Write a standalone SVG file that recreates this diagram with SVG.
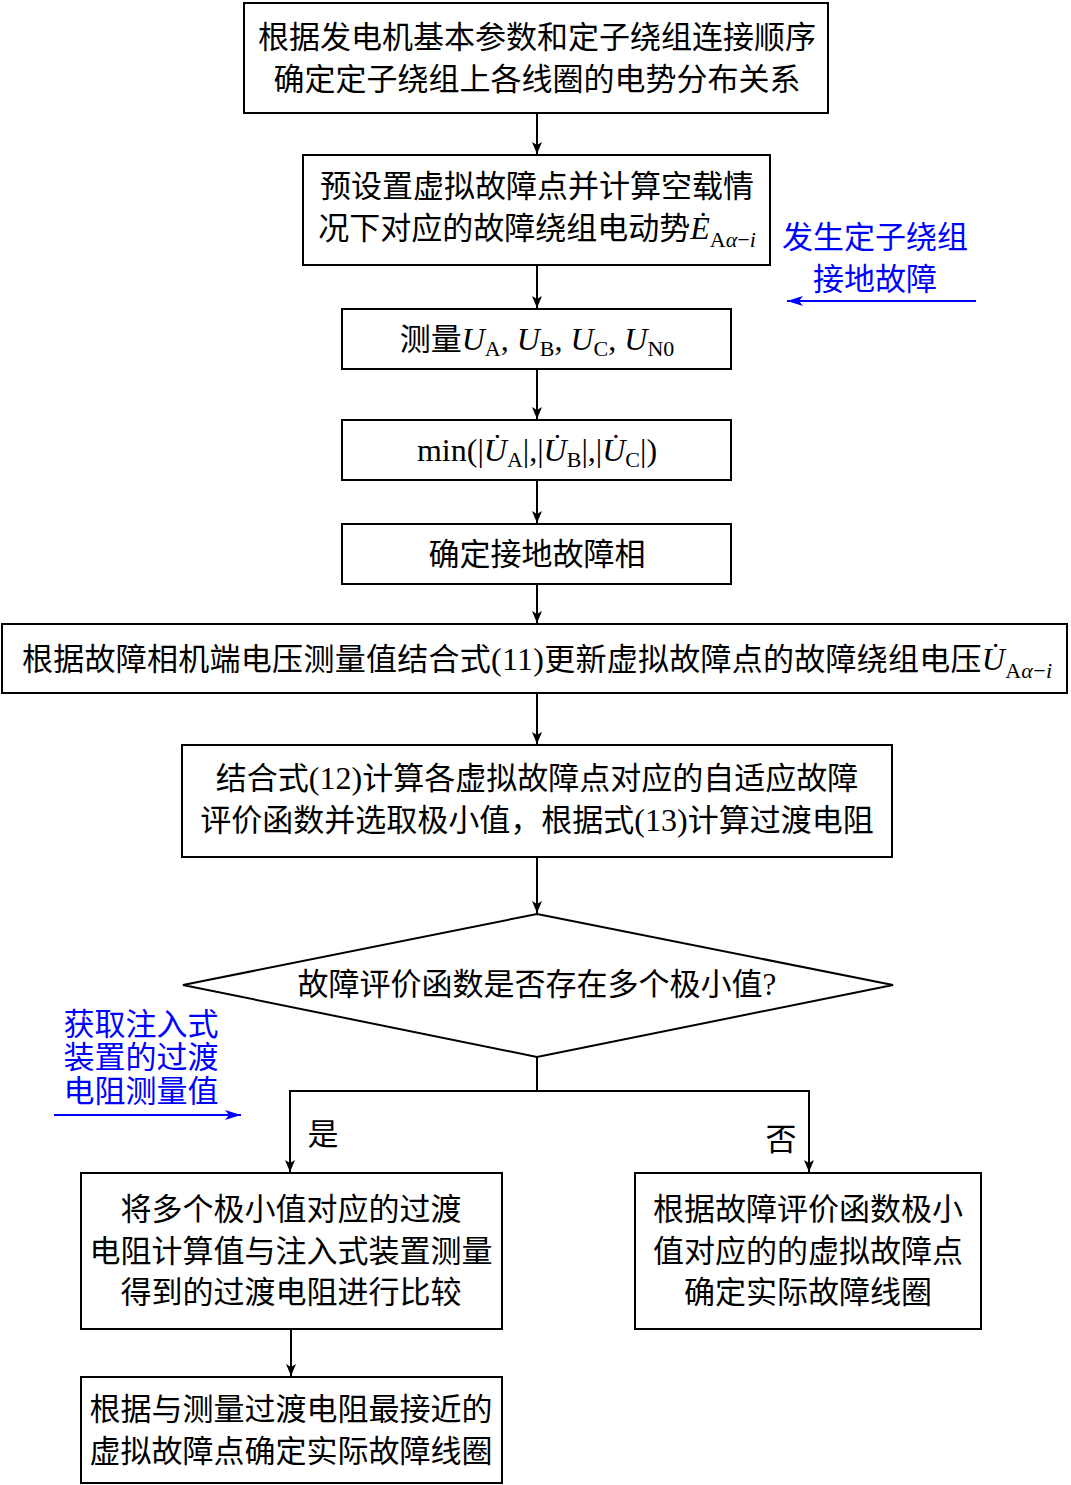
<svg xmlns="http://www.w3.org/2000/svg" width="1071" height="1485" viewBox="0 0 1071 1485">
<style>
.box{fill:#fff;stroke:#000;stroke-width:2}
.t{font-family:"Liberation Serif","Noto Sans CJK SC",serif;font-size:31px;fill:#000;text-anchor:middle}
.b{font-family:"Liberation Serif","Noto Sans CJK SC",serif;font-size:31px;fill:#0000ff;text-anchor:middle}
.i{font-style:italic}
.m{font-size:32px}
.s{font-size:22px}
.c{stroke:#000;stroke-width:2;fill:none}
.bl{stroke:#0000ff;stroke-width:2;fill:none}
</style>
<defs>
<marker id="ah" viewBox="0 0 12 10" refX="12" refY="5" markerWidth="12" markerHeight="10" markerUnits="userSpaceOnUse" orient="auto"><path d="M0,0 L12,5 L0,10 L3,5 z" fill="#000"/></marker>
<marker id="bh" viewBox="0 0 16 10" refX="16" refY="5" markerWidth="16" markerHeight="10" markerUnits="userSpaceOnUse" orient="auto"><path d="M0,0 L16,5 L0,10 L4,5 z" fill="#0000ff"/></marker>
</defs>
<g id="connectors">
<path class="c" d="M537,113 V154" marker-end="url(#ah)"/>
<path class="c" d="M537,265 V308" marker-end="url(#ah)"/>
<path class="c" d="M537,369 V419" marker-end="url(#ah)"/>
<path class="c" d="M537,480 V523" marker-end="url(#ah)"/>
<path class="c" d="M537,584 V623" marker-end="url(#ah)"/>
<path class="c" d="M537,693 V744" marker-end="url(#ah)"/>
<path class="c" d="M537,857 V913" marker-end="url(#ah)"/>
<path class="c" d="M537,1057 V1091 H290 V1172" marker-end="url(#ah)"/>
<path class="c" d="M537,1091 H809 V1172" marker-end="url(#ah)"/>
<path class="c" d="M291,1329 V1376" marker-end="url(#ah)"/>
<text class="t" x="323" y="1145">是</text>
<text class="t" x="781" y="1150">否</text>
</g>
<g id="n1"><rect class="box" x="244" y="3" width="584" height="110"/>
<text class="t" x="537" y="48">根据发电机基本参数和定子绕组连接顺序</text>
<text class="t" x="537" y="90">确定定子绕组上各线圈的电势分布关系</text></g>
<g id="n2"><rect class="box" x="303" y="155" width="467" height="110"/>
<text class="t" x="537" y="197">预设置虚拟故障点并计算空载情</text>
<text class="t" x="537" y="239">况下对应的故障绕组电动势<tspan class="i m">Ė</tspan><tspan class="s" dy="8">A</tspan><tspan class="s i">α</tspan><tspan class="s">−</tspan><tspan class="s i">i</tspan></text></g>
<g id="n3"><rect class="box" x="342" y="309" width="389" height="60"/>
<text class="t" x="537" y="350">测量<tspan class="i m">U</tspan><tspan class="s" dy="6">A</tspan><tspan class="m" dy="-6">, </tspan><tspan class="i m">U</tspan><tspan class="s" dy="6">B</tspan><tspan class="m" dy="-6">, </tspan><tspan class="i m">U</tspan><tspan class="s" dy="6">C</tspan><tspan class="m" dy="-6">, </tspan><tspan class="i m">U</tspan><tspan class="s" dy="6">N0</tspan></text></g>
<g id="n4"><rect class="box" x="342" y="420" width="389" height="60"/>
<text class="t m" x="537" y="461">min(|<tspan class="i">U̇</tspan><tspan class="s" dy="6">A</tspan><tspan dy="-6">|,|</tspan><tspan class="i">U̇</tspan><tspan class="s" dy="6">B</tspan><tspan dy="-6">|,|</tspan><tspan class="i">U̇</tspan><tspan class="s" dy="6">C</tspan><tspan dy="-6">|)</tspan></text></g>
<g id="n5"><rect class="box" x="342" y="524" width="389" height="60"/>
<text class="t" x="537" y="565">确定接地故障相</text></g>
<g id="n6"><rect class="box" x="2" y="624" width="1065" height="69"/>
<text class="t" x="537" y="670" textLength="1030" lengthAdjust="spacing">根据故障相机端电压测量值结合式<tspan class="m">(11)</tspan>更新虚拟故障点的故障绕组电压<tspan class="i m">U̇</tspan><tspan class="s" dy="8">A</tspan><tspan class="s i">α</tspan><tspan class="s">−</tspan><tspan class="s i">i</tspan></text></g>
<g id="n7"><rect class="box" x="182" y="745" width="710" height="112"/>
<text class="t" x="537" y="789">结合式<tspan class="m">(12)</tspan>计算各虚拟故障点对应的自适应故障</text>
<text class="t" x="537" y="831">评价函数并选取极小值，根据式<tspan class="m">(13)</tspan>计算过渡电阻</text></g>
<g id="n8"><polygon class="box" points="537,914 893,985 537,1057 183,985"/>
<text class="t" x="537" y="995">故障评价函数是否存在多个极小值?</text></g>
<g id="n9"><rect class="box" x="81" y="1173" width="421" height="156"/>
<text class="t" x="291" y="1220">将多个极小值对应的过渡</text>
<text class="t" x="291" y="1262">电阻计算值与注入式装置测量</text>
<text class="t" x="291" y="1303">得到的过渡电阻进行比较</text></g>
<g id="n10"><rect class="box" x="635" y="1173" width="346" height="156"/>
<text class="t" x="808" y="1220">根据故障评价函数极小</text>
<text class="t" x="808" y="1262">值对应的的虚拟故障点</text>
<text class="t" x="808" y="1303">确定实际故障线圈</text></g>
<g id="n11"><rect class="box" x="81" y="1377" width="421" height="106"/>
<text class="t" x="291" y="1420">根据与测量过渡电阻最接近的</text>
<text class="t" x="291" y="1462">虚拟故障点确定实际故障线圈</text></g>
<g id="note1">
<text class="b" x="875" y="248">发生定子绕组</text>
<text class="b" x="875" y="290">接地故障</text>
<path class="bl" d="M976,301 H787" marker-end="url(#bh)"/></g>
<g id="note2">
<text class="b" x="141" y="1035">获取注入式</text>
<text class="b" x="141" y="1068">装置的过渡</text>
<text class="b" x="141" y="1102">电阻测量值</text>
<path class="bl" d="M54,1115 H241" marker-end="url(#bh)"/></g>
</svg>
